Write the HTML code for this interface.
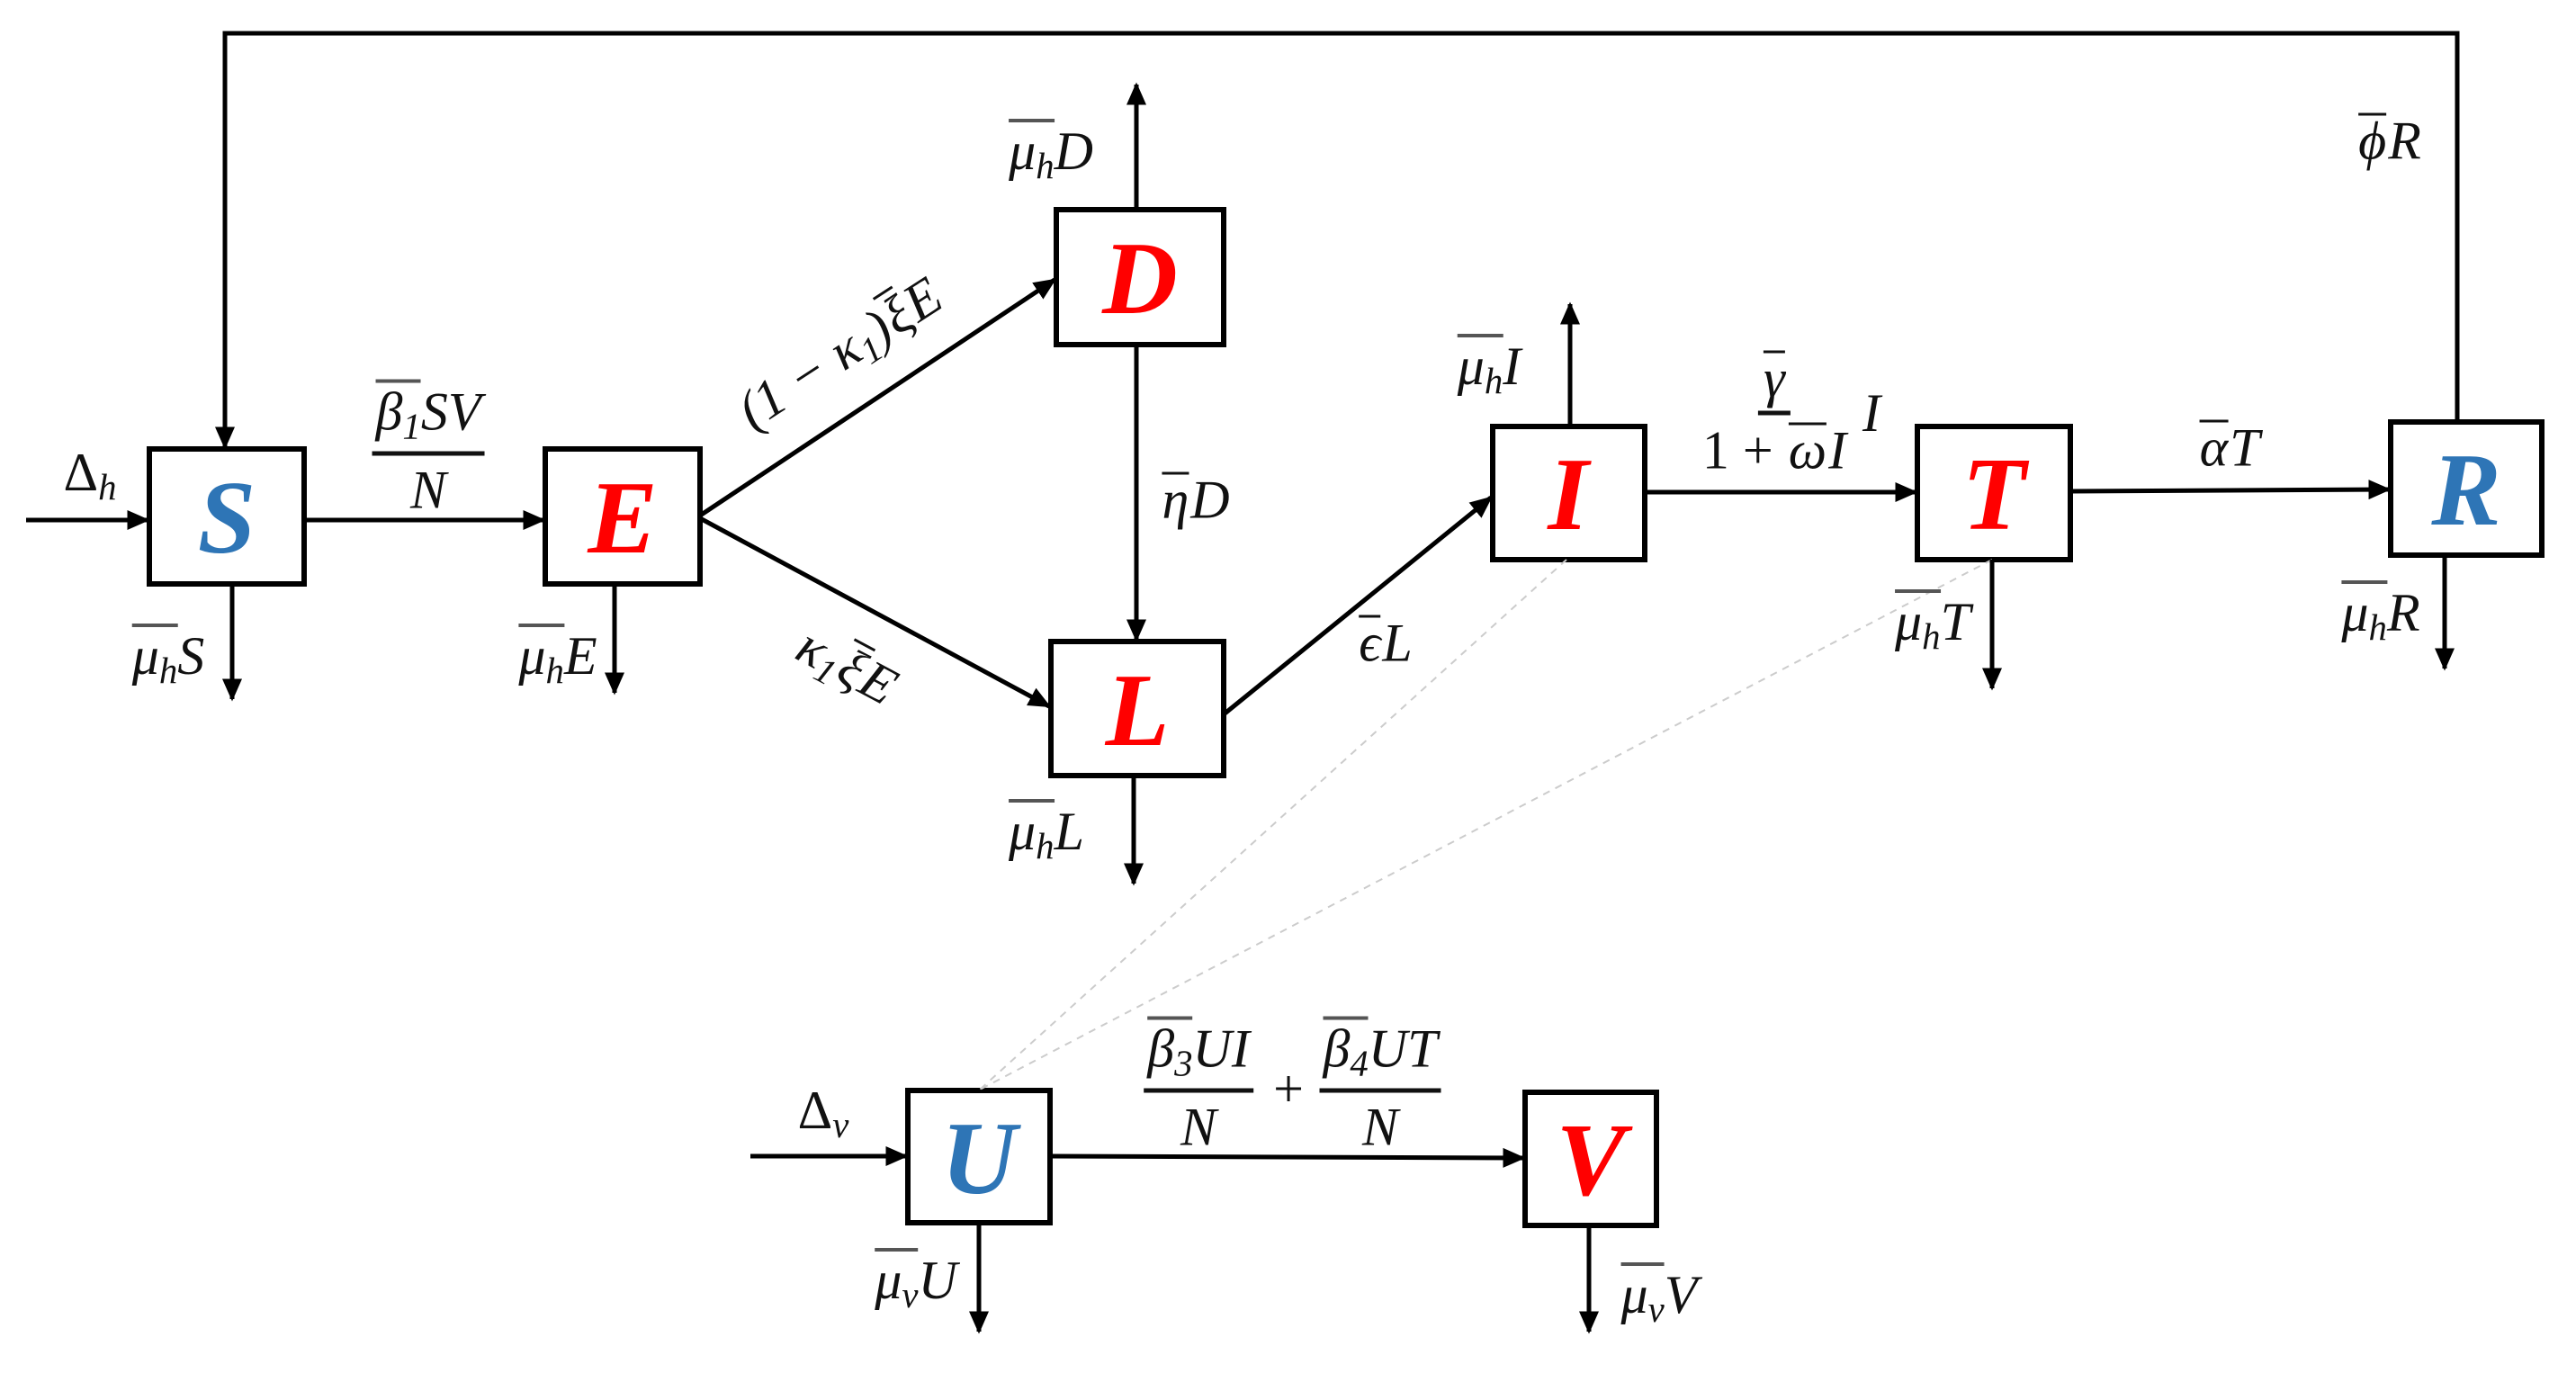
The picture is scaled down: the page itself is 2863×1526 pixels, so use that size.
<!DOCTYPE html>
<html><head><meta charset="utf-8"><style>
body{margin:0;background:#fff;}
#c{position:relative;width:2863px;height:1526px;overflow:hidden;background:#fff;}
svg{position:absolute;left:0;top:0;}
.l{position:absolute;transform:translate(-50%,-50%);font:italic 60px "Liberation Serif","DejaVu Serif",serif;white-space:nowrap;color:#111;line-height:1;}
.l sub{font-size:0.68em;vertical-align:-0.25em;}
.ov{display:inline-block;border-top:4px solid #555;padding-top:2px;line-height:1;}
.b{display:inline-block;border-top:3px solid #111;padding-top:1px;line-height:0.9;margin:0 2px;}
.big{position:absolute;transform:translate(-50%,-50%);font:italic bold 116px "Liberation Serif",serif;line-height:1;}
.red{color:#f00}.blue{color:#2e75b6}
.fr{display:inline-flex;flex-direction:column;align-items:center;vertical-align:middle;}
.fr .n{padding:0 4px 6px;border-bottom:5px solid #111;}
.fr .d{padding:8px 4px 0;}
.up{font-style:normal}
</style></head><body><div id="c">
<svg width="2863" height="1526" viewBox="0 0 2863 1526">
<defs><marker id="a" markerWidth="5" markerHeight="5" refX="4.5" refY="2.5" orient="auto" markerUnits="strokeWidth"><path d="M0,0.3 L5,2.5 L0,4.7 Z" fill="#000"/></marker></defs>
<g fill="none" stroke="#000" stroke-width="6">
<rect x="166" y="499" width="172" height="150"/>
<rect x="606" y="499" width="172" height="150"/>
<rect x="1174" y="233" width="186" height="150"/>
<rect x="1168" y="713" width="192" height="149"/>
<rect x="1659" y="474" width="169" height="148"/>
<rect x="2131" y="474" width="170" height="148"/>
<rect x="2657" y="469" width="168" height="148"/>
<rect x="1009" y="1212" width="158" height="147"/>
<rect x="1695" y="1214" width="146" height="148"/>
</g>
<g stroke="#ccc" stroke-width="2" stroke-dasharray="8,7" fill="none">
<line x1="1741" y1="622" x2="1089" y2="1211"/>
<line x1="2214" y1="622" x2="1089" y2="1211"/>
</g>
<g stroke="#000" stroke-width="5" fill="none" marker-end="url(#a)">
<polyline points="2731,469 2731,37 250,37 250,497" />
<line x1="29" y1="578" x2="164" y2="578"/>
<line x1="338" y1="578" x2="604" y2="578"/>
<line x1="258" y1="649" x2="258" y2="777"/>
<line x1="683" y1="649" x2="683" y2="770"/>
<line x1="778" y1="573" x2="1172" y2="311"/>
<line x1="778" y1="576" x2="1166" y2="785"/>
<line x1="1263" y1="233" x2="1263" y2="94"/>
<line x1="1263" y1="383" x2="1263" y2="711"/>
<line x1="1260" y1="862" x2="1260" y2="982"/>
<line x1="1360" y1="794" x2="1657" y2="553"/>
<line x1="1745" y1="474" x2="1745" y2="338"/>
<line x1="1828" y1="547" x2="2129" y2="547"/>
<line x1="2301" y1="546" x2="2655" y2="544"/>
<line x1="2214" y1="622" x2="2214" y2="765"/>
<line x1="2717" y1="617" x2="2717" y2="743"/>
<line x1="834" y1="1285" x2="1007" y2="1285"/>
<line x1="1167" y1="1285" x2="1693" y2="1287"/>
<line x1="1088" y1="1359" x2="1088" y2="1480"/>
<line x1="1766" y1="1362" x2="1766" y2="1480"/>
</g>
</svg>
<div class="big blue" style="left:252px;top:576px">S</div>
<div class="big red" style="left:692px;top:576px">E</div>
<div class="big red" style="left:1267px;top:310px">D</div>
<div class="big red" style="left:1264px;top:790px">L</div>
<div class="big red" style="left:1743px;top:550px">I</div>
<div class="big red" style="left:2216px;top:550px">T</div>
<div class="big blue" style="left:2741px;top:545px">R</div>
<div class="big blue" style="left:1088px;top:1288px">U</div>
<div class="big red" style="left:1768px;top:1290px">V</div>

<div class="l" style="left:100px;top:529px"><span class="up">Δ</span><sub>h</sub></div>
<div class="l" style="left:476px;top:498px"><span class="fr"><span class="n"><span class="ov">β<sub>1</sub></span>SV</span><span class="d">N</span></span></div>
<div class="l" style="left:187px;top:730px"><span class="ov">μ<sub>h</sub></span>S</div>
<div class="l" style="left:620px;top:730px"><span class="ov">μ<sub>h</sub></span>E</div>
<div class="l" style="left:1168px;top:169px"><span class="ov">μ<sub>h</sub></span>D</div>
<div class="l" style="left:935px;top:395px;transform:translate(-50%,-50%) rotate(-33deg)">(1 − κ<sub>1</sub>)<span class="b">ξ</span>E</div>
<div class="l" style="left:940px;top:743px;transform:translate(-50%,-50%) rotate(28deg)">κ<sub>1</sub><span class="b">ξ</span>E</div>
<div class="l" style="left:1328px;top:555px"><span class="b">η</span>D</div>
<div class="l" style="left:1163px;top:925px"><span class="ov">μ<sub>h</sub></span>L</div>
<div class="l" style="left:1539px;top:714px"><span class="b">ϵ</span>L</div>
<div class="l" style="left:1655px;top:408px"><span class="ov">μ<sub>h</sub></span>I</div>
<div class="l" style="left:1972px;top:460px"><span class="fr"><span class="n"><span class="b">γ</span></span><span class="d"><span class="up">1 + </span><span class="b">ω</span>I</span></span></div>
<div class="l" style="left:2080px;top:459px">I</div>
<div class="l" style="left:2477px;top:497px"><span class="b">α</span>T</div>
<div class="l" style="left:2655px;top:156px"><span class="b">ϕ</span>R</div>
<div class="l" style="left:2148px;top:692px"><span class="ov">μ<sub>h</sub></span>T</div>
<div class="l" style="left:2646px;top:682px"><span class="ov">μ<sub>h</sub></span>R</div>
<div class="l" style="left:915px;top:1238px"><span class="up">Δ</span><sub>v</sub></div>
<div class="l" style="left:1332px;top:1206px"><span class="fr"><span class="n"><span class="ov">β<sub>3</sub></span>UI</span><span class="d">N</span></span></div>
<div class="l" style="left:1432px;top:1210px"><span class="up">+</span></div>
<div class="l" style="left:1534px;top:1206px"><span class="fr"><span class="n"><span class="ov">β<sub>4</sub></span>UT</span><span class="d">N</span></span></div>
<div class="l" style="left:1018px;top:1424px"><span class="ov">μ<sub>v</sub></span>U</div>
<div class="l" style="left:1844px;top:1440px"><span class="ov">μ<sub>v</sub></span>V</div>
</div></body></html>
